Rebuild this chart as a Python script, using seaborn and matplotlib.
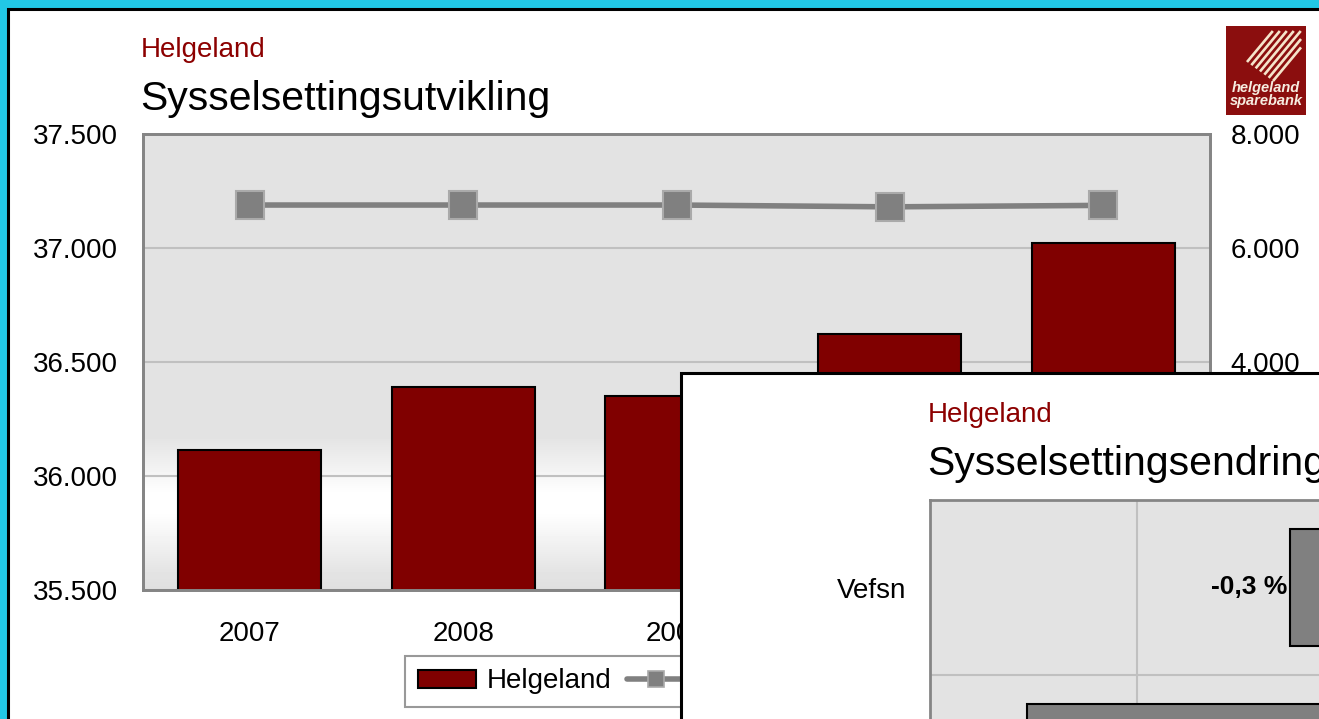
import numpy as np
import matplotlib
matplotlib.use("Agg")
import matplotlib.pyplot as plt
from matplotlib.patches import Rectangle, Patch
from matplotlib.lines import Line2D
import seaborn as sns

# ---------------- data ----------------
years = ["2007", "2008", "2009", "2010", "2011"]
helgeland = [36114, 36392, 36352, 36621, 37021]
vefsn = [6754, 6754, 6754, 6722, 6748]

left_ticks = [35500, 36000, 36500, 37000, 37500]
right_ticks = [0, 2000, 4000, 6000, 8000]

change_names = ["Vefsn", "Helgeland"]
change_values = [-0.26, -1.53]
change_labels = ["-0,3 %", "-1,5 %"]

# ---------------- style ----------------
sns.set_style("white")
plt.rcParams["font.family"] = ["Liberation Sans", "DejaVu Sans"]
plt.rcParams["text.color"] = "black"
plt.rcParams["axes.labelcolor"] = "black"
plt.rcParams["xtick.color"] = "black"
plt.rcParams["ytick.color"] = "black"

W, H = 1319, 719
fig = plt.figure(figsize=(W / 100, H / 100), dpi=100)
fig.patch.set_facecolor("#22C8E6")

def fx(px):
    return px / W

def fy(py):
    return 1 - py / H

# white slide panel
fig.add_artist(Rectangle((fx(8), -0.1), 1.2, fy(9) + 0.1, transform=fig.transFigure,
                         facecolor="white", edgecolor="black", lw=2.2, zorder=-5))

# main axes
pos = [fx(143), fy(590), (1210 - 143) / W, (590 - 134) / H]
bg = fig.add_axes(pos, zorder=-1)
f = np.linspace(0, 1, 456)
L = np.interp(f, [0, 0.04, 0.17, 0.21, 0.335, 1.0], [0.875, 0.895, 1.0, 1.0, 0.89, 0.89])
img = np.repeat(L[::-1, None], 2, axis=1)
bg.imshow(img, extent=[0, 1, 0, 1], aspect="auto", cmap="gray", vmin=0, vmax=1)
bg.set_axis_off()

ax = fig.add_axes(pos)
ax.set_facecolor("none")
sns.barplot(x=years, y=helgeland, ax=ax, color="#800000", edgecolor="black",
            linewidth=1.5, width=0.67, saturation=1)
ax.set_ylim(35500, 37500)
ax.set_yticks(left_ticks)
ax.set_yticklabels([f"{v:,}".replace(",", ".") for v in left_ticks])
ax.yaxis.grid(True, color="#C0C0C0", lw=1.5)
ax.xaxis.grid(False)
ax.set_axisbelow(True)
ax.tick_params(axis="y", length=0, pad=18, labelsize=20, colors="black")
ax.tick_params(axis="x", length=0, pad=22, labelsize=20, colors="black")
ax.set_xlabel("")
ax.set_ylabel("")
for s in ax.spines.values():
    s.set_visible(True)
    s.set_color("#858585")
    s.set_linewidth(2)

ax2 = ax.twinx()
sns.pointplot(x=years, y=vefsn, ax=ax2, color="#808080", markers="s",
              linestyles="-", errorbar=None)
for ln in ax2.lines:
    ln.set_linewidth(4)
    ln.set_markersize(20)
    ln.set_markerfacecolor("#808080")
    ln.set_markeredgecolor("#AAAAAA")
    ln.set_markeredgewidth(1.5)
    ln.set_zorder(3)
ax2.set_ylim(0, 8000)
ax2.set_yticks(right_ticks)
ax2.set_yticklabels([f"{v:,}".replace(",", ".") for v in right_ticks])
ax2.tick_params(axis="y", length=0, pad=15, labelsize=20, colors="black")
ax2.grid(False)
ax2.set_ylabel("")
ax2.set_xlabel("")
for s in ax2.spines.values():
    s.set_color("#858585")
    s.set_linewidth(2)
ax.set_xlim(-0.5, 4.5)
for a in (ax, ax2):
    if a.get_legend() is not None:
        a.get_legend().remove()

# titles
fig.text(fx(141), fy(57), "Helgeland", color="#8C0000", fontsize=20, va="baseline", ha="left")
fig.text(fx(140), fy(110), "Sysselsettingsutvikling", color="black", fontsize=29.5,
         va="baseline", ha="left")

# legend
handles = [Patch(facecolor="#800000", edgecolor="black", lw=1.5),
           Line2D([], [], color="#808080", lw=4, marker="s", ms=11,
                  mfc="#808080", mec="#AAAAAA", mew=1.2)]
leg = fig.legend(handles=handles, labels=["Helgeland", "Vefsn"], loc="upper left",
                 bbox_to_anchor=(fx(405), fy(656)), bbox_transform=fig.transFigure,
                 ncol=2, frameon=True, fancybox=False, edgecolor="#808080",
                 fontsize=20, handlelength=2.1, handleheight=0.6, handletextpad=0.4,
                 columnspacing=0.55, borderpad=0.45, borderaxespad=0, labelcolor="black")
leg.get_frame().set_linewidth(1.5)
leg.set_zorder(5)

# logo (decoration)
lx0, ly0, lw_, lh_ = 1226, 26, 80, 89
lax = fig.add_axes([fx(lx0), fy(ly0 + lh_), lw_ / W, lh_ / H], zorder=4)
lax.set_xlim(lx0, lx0 + lw_)
lax.set_ylim(ly0 + lh_, ly0)
lax.set_axis_off()
lax.add_patch(Rectangle((lx0, ly0), lw_, lh_, facecolor="#8B0E0E", edgecolor="none"))
n_str = 7
for i in range(n_str):
    t = i / (n_str - 1)
    sx = 1247 + 26 * t
    sy = 62 + 19 * t
    dx, dy = 1.0, -1.2
    s_top = (sy - 31) / -dy
    s_right = (1301 - sx) / dx
    s = min(s_top, s_right)
    lax.plot([sx, sx + s * dx], [sy, sy + s * dy], color="#F5E4CA", lw=1.9,
             solid_capstyle="butt")
lax.text(1266, 88, "helgeland", color="#F6ECE0", fontsize=10.5, fontweight="bold",
         fontstyle="italic", ha="center", va="center")
lax.text(1266, 100.5, "sparebank", color="#F6ECE0", fontsize=10.5, fontweight="bold",
         fontstyle="italic", ha="center", va="center")

# overlay panel (second chart)
fig.add_artist(Rectangle((fx(681), -0.2), 1.0, fy(373) + 0.2, transform=fig.transFigure,
                         facecolor="white", edgecolor="black", lw=2.2, zorder=10))
fig.text(fx(928), fy(422), "Helgeland", color="#8C0000", fontsize=20, va="baseline",
         ha="left", zorder=11)
fig.text(fx(927), fy(475), "Sysselsettingsendring", color="black", fontsize=29.5,
         va="baseline", ha="left", zorder=11)

x_left, x_m1 = 930, 1137
ppu = x_m1 - x_left
x_right = x_left + 2.5 * ppu
y_top = 500
band = 175
axi = fig.add_axes([fx(x_left), fy(y_top + 2 * band), (x_right - x_left) / W, 2 * band / H],
                   zorder=12)
sns.barplot(x=change_values, y=change_names, orient="h", ax=axi, color="#808080",
            edgecolor="black", linewidth=1.5, width=0.67, saturation=1)
axi.set_xlim(-2, 0.5)
axi.set_ylim(1.5, -0.5)
axi.set_facecolor("#E3E3E3")
axi.set_xticks([-2, -1, 0])
axi.set_xticklabels([])
axi.set_yticks([0, 1])
axi.set_yticks([0.5], minor=True)
axi.xaxis.grid(True, color="#C0C0C0", lw=1.5)
axi.yaxis.grid(True, which="minor", color="#C0C0C0", lw=1.5)
axi.yaxis.grid(False, which="major")
axi.set_axisbelow(True)
axi.tick_params(axis="both", which="both", length=0)
axi.tick_params(axis="y", pad=17, labelsize=20, colors="black")
axi.set_xlabel("")
axi.set_ylabel("")
for s in axi.spines.values():
    s.set_visible(True)
    s.set_color("#858585")
    s.set_linewidth(2)
axi.bar_label(axi.containers[0], labels=change_labels, padding=2, fontsize=19,
              fontweight="bold", color="black")

fig.savefig("out.png", dpi=100, facecolor=fig.get_facecolor())
